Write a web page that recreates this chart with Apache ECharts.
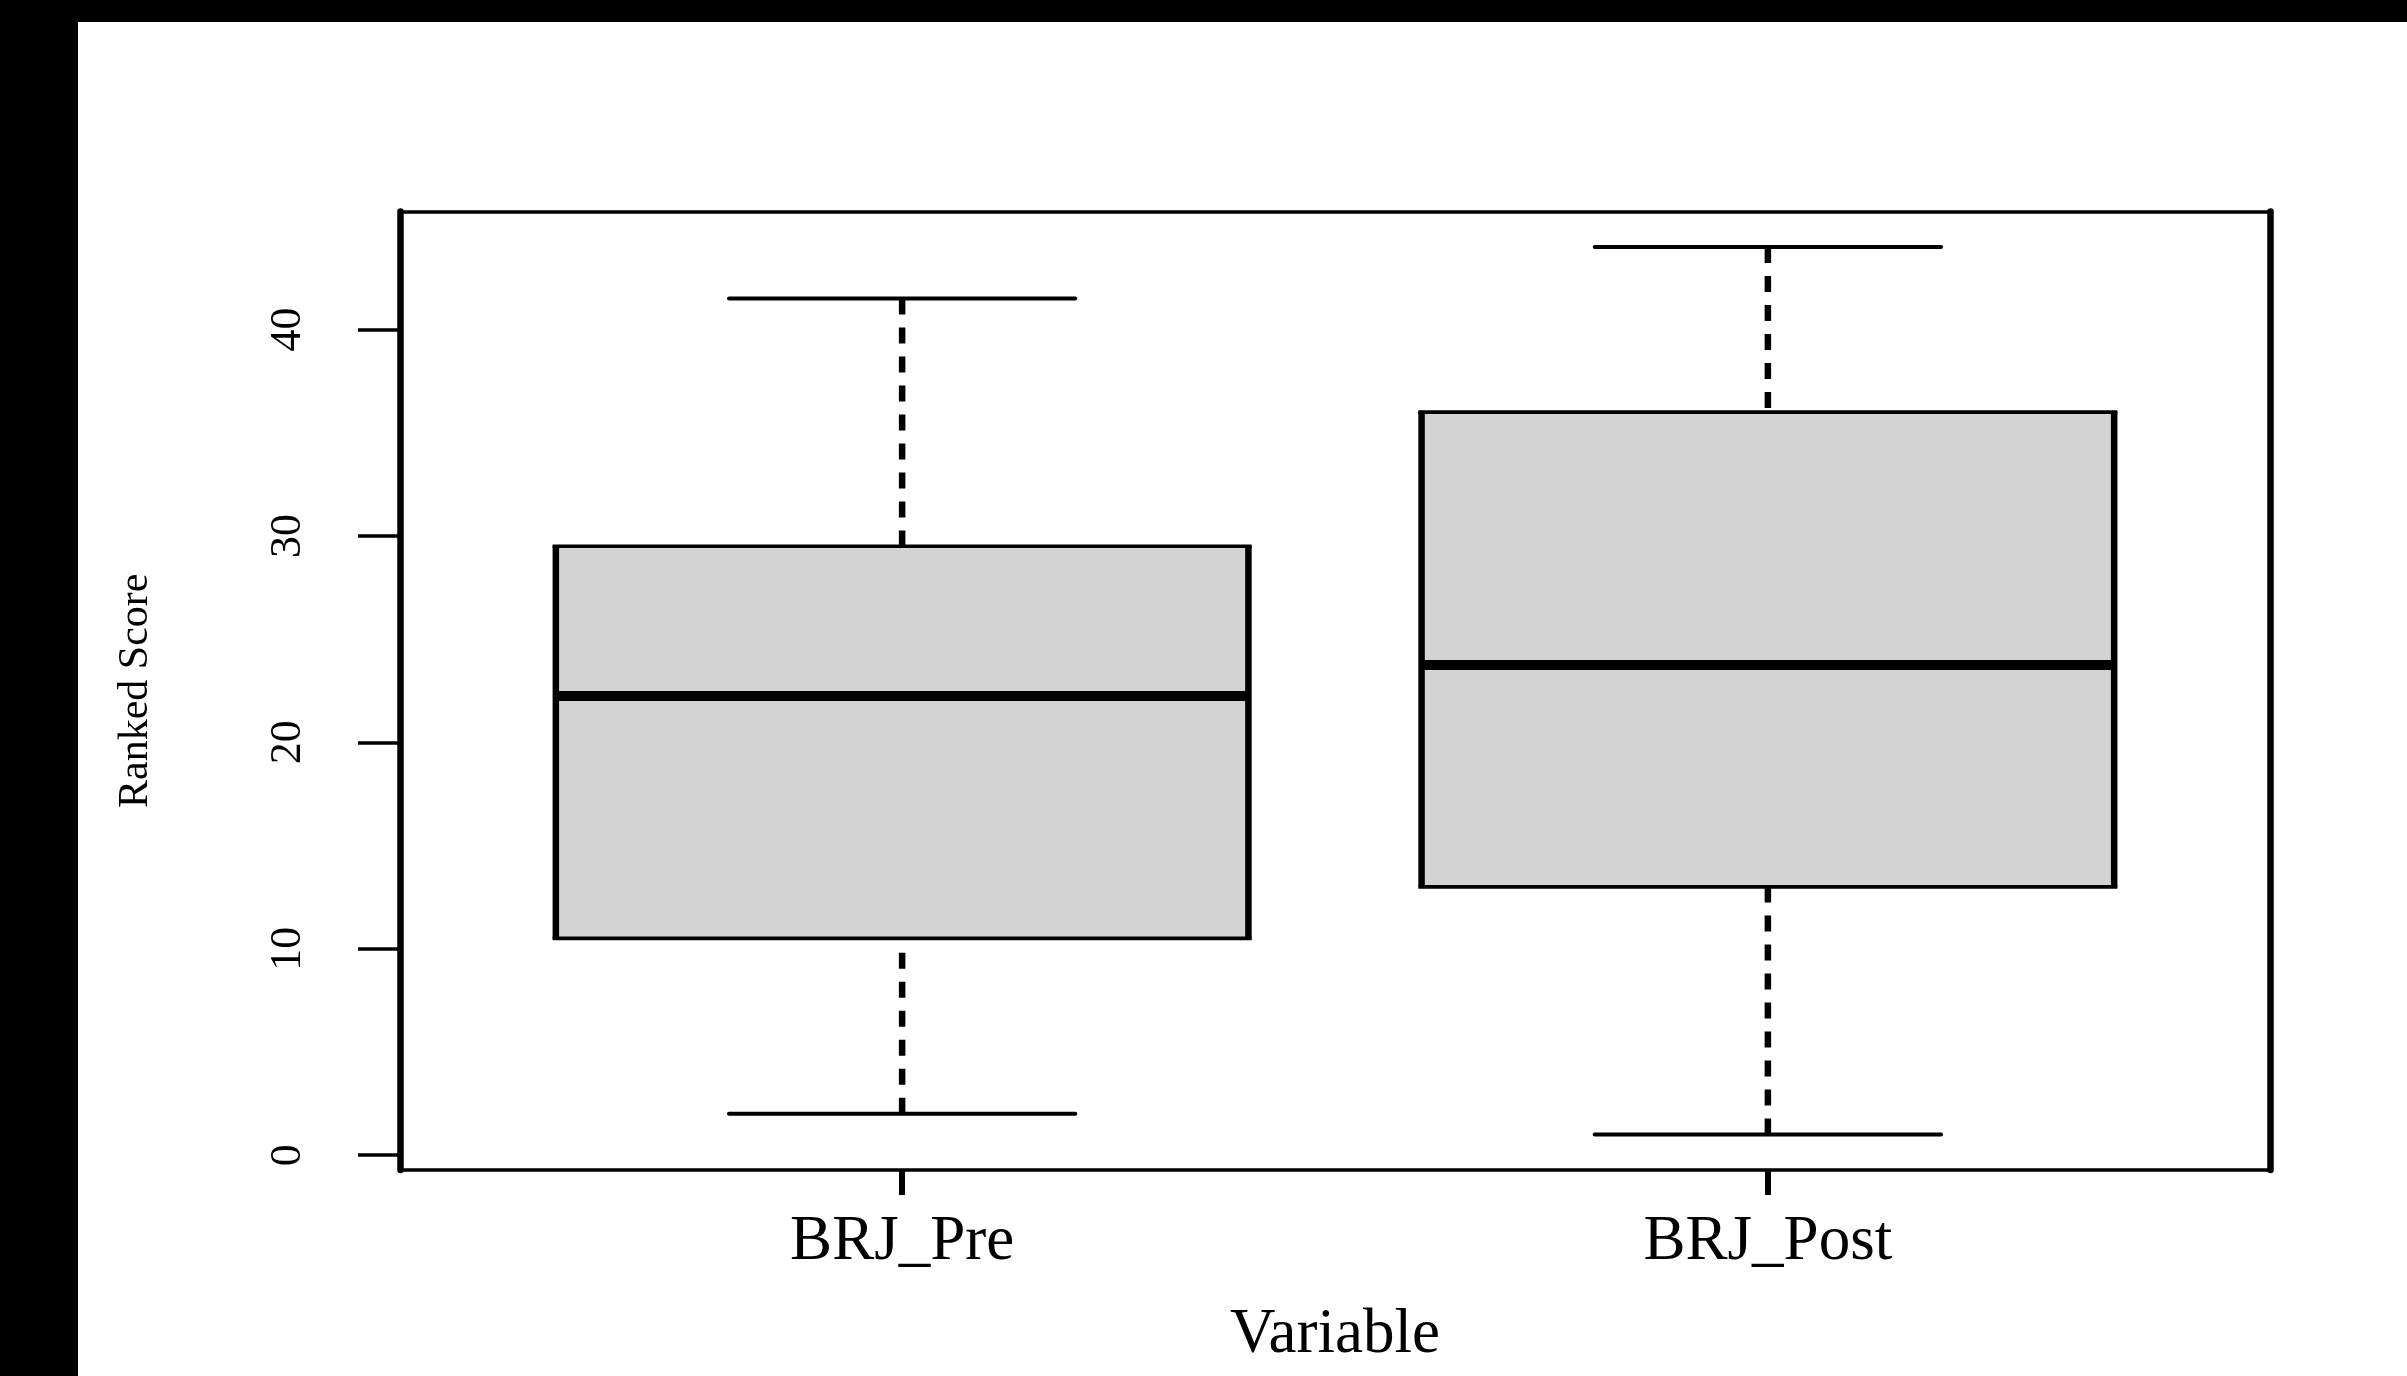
<!DOCTYPE html>
<html>
<head>
<meta charset="utf-8">
<script src="https://cdn.jsdelivr.net/npm/echarts@6/dist/echarts.min.js"></script>
<style>
  html, body { margin: 0; padding: 0; background: #000; width: 2407px; height: 1376px; overflow: hidden; }
  #chart { position: absolute; left: 78px; top: 22px; width: 2329px; height: 1354px; background: #fff; }
</style>
</head>
<body>
<div id="chart"></div>
<script>
// ---- data ----
const categories   = ['BRJ_Pre', 'BRJ_Post'];
const lowerWhisker = [2, 1];
const lowerQuart   = [10.5, 13];
const medians      = [22.25, 23.75];
const upperQuart   = [29.5, 36];
const upperWhisker = [41.5, 44];
const yTickValues  = [0, 10, 20, 30, 40];
const xTickValues  = [1, 2];

const FONT = 'Liberation Serif';
const boxData = categories.map((c, i) => [i + 1, lowerWhisker[i], lowerQuart[i], medians[i], upperQuart[i], upperWhisker[i]]);

const chart = echarts.init(document.getElementById('chart'), null, { renderer: 'canvas' });

function renderBox(params, api) {
  const x = api.value(0);
  const lo = api.value(1), q1 = api.value(2), med = api.value(3), q3 = api.value(4), hi = api.value(5);
  const boxHalf = 0.4, capHalf = 0.2;
  const pL = api.coord([x - boxHalf, q3]);
  const pR = api.coord([x + boxHalf, q1]);
  const pC = api.coord([x, 0]);
  const yLo = api.coord([x, lo])[1], yQ1 = api.coord([x, q1])[1], yMed = api.coord([x, med])[1];
  const yQ3 = api.coord([x, q3])[1], yHi = api.coord([x, hi])[1];
  const cL = api.coord([x - capHalf, 0])[0], cR = api.coord([x + capHalf, 0])[0];
  const cx = pC[0];
  const hW = 3.6, vW = 6.5;
  const stroke = '#000';
  const dash = [16, 13];
  return {
    type: 'group',
    children: [
      { type: 'line', shape: { x1: cx, y1: yHi, x2: cx, y2: yQ3 }, style: { stroke, lineWidth: vW, lineDash: dash, lineCap: 'butt' } },
      { type: 'line', shape: { x1: cx, y1: yLo, x2: cx, y2: yQ1 }, style: { stroke, lineWidth: vW, lineDash: dash, lineCap: 'butt' } },
      { type: 'line', shape: { x1: cL, y1: yHi, x2: cR, y2: yHi }, style: { stroke, lineWidth: 4, lineCap: 'round' } },
      { type: 'line', shape: { x1: cL, y1: yLo, x2: cR, y2: yLo }, style: { stroke, lineWidth: 4, lineCap: 'round' } },
      { type: 'rect', shape: { x: pL[0], y: yQ3, width: pR[0] - pL[0], height: yQ1 - yQ3 }, style: { fill: '#d3d3d3' } },
      { type: 'line', shape: { x1: pL[0] - vW / 2, y1: yQ3, x2: pR[0] + vW / 2, y2: yQ3 }, style: { stroke, lineWidth: hW } },
      { type: 'line', shape: { x1: pL[0] - vW / 2, y1: yQ1, x2: pR[0] + vW / 2, y2: yQ1 }, style: { stroke, lineWidth: hW } },
      { type: 'line', shape: { x1: pL[0], y1: yQ3, x2: pL[0], y2: yQ1 }, style: { stroke, lineWidth: vW } },
      { type: 'line', shape: { x1: pR[0], y1: yQ3, x2: pR[0], y2: yQ1 }, style: { stroke, lineWidth: vW } },
      { type: 'line', shape: { x1: pL[0], y1: yMed, x2: pR[0], y2: yMed }, style: { stroke, lineWidth: 10 } }
    ]
  };
}

const option = {
  backgroundColor: '#fff',
  animation: false,
  grid: { left: 322, top: 189.5, right: 137, bottom: 206, containLabel: false },
  xAxis: [
    {
      type: 'value', position: 'bottom', min: 0.42, max: 2.58,
      name: 'Variable', nameLocation: 'middle', nameGap: 134,
      nameTextStyle: { fontFamily: FONT, fontSize: 63, color: '#000' },
      axisLine: { show: true, onZero: false, lineStyle: { color: '#000', width: 3.6 } },
      axisTick: { show: true, length: 25, customValues: xTickValues, lineStyle: { color: '#000', width: 6 } },
      axisLabel: { show: true, customValues: xTickValues, margin: 41, fontFamily: FONT, fontSize: 63, color: '#000',
        formatter: v => categories[Math.round(v) - 1] || '' },
      splitLine: { show: false }
    },
    {
      type: 'value', position: 'top', min: 0.42, max: 2.58,
      axisLine: { show: true, onZero: false, lineStyle: { color: '#000', width: 3.6 } },
      axisTick: { show: false }, axisLabel: { show: false }, splitLine: { show: false }
    }
  ],
  yAxis: [
    {
      type: 'value', position: 'left', min: -0.72, max: 45.72,
      name: 'Ranked Score', nameLocation: 'middle', nameGap: 243, nameRotate: 90,
      nameTextStyle: { fontFamily: FONT, fontSize: 42, color: '#000' },
      axisLine: { show: true, onZero: false, lineStyle: { color: '#000', width: 6.5 } },
      axisTick: { show: true, length: 42, customValues: yTickValues, lineStyle: { color: '#000', width: 3.5 } },
      axisLabel: { show: true, customValues: yTickValues, rotate: 90, margin: 90, fontFamily: FONT, fontSize: 44, color: '#000' },
      splitLine: { show: false }
    },
    {
      type: 'value', position: 'right', min: -0.72, max: 45.72,
      axisLine: { show: true, onZero: false, lineStyle: { color: '#000', width: 6.5 } },
      axisTick: { show: false }, axisLabel: { show: false }, splitLine: { show: false }
    }
  ],
  series: [
    {
      type: 'custom',
      xAxisIndex: 0, yAxisIndex: 0,
      renderItem: renderBox,
      encode: { x: 0, y: [1, 2, 3, 4, 5] },
      data: boxData,
      clip: false,
      z: 1
    }
  ]
};
chart.setOption(option);
</script>
</body>
</html>
